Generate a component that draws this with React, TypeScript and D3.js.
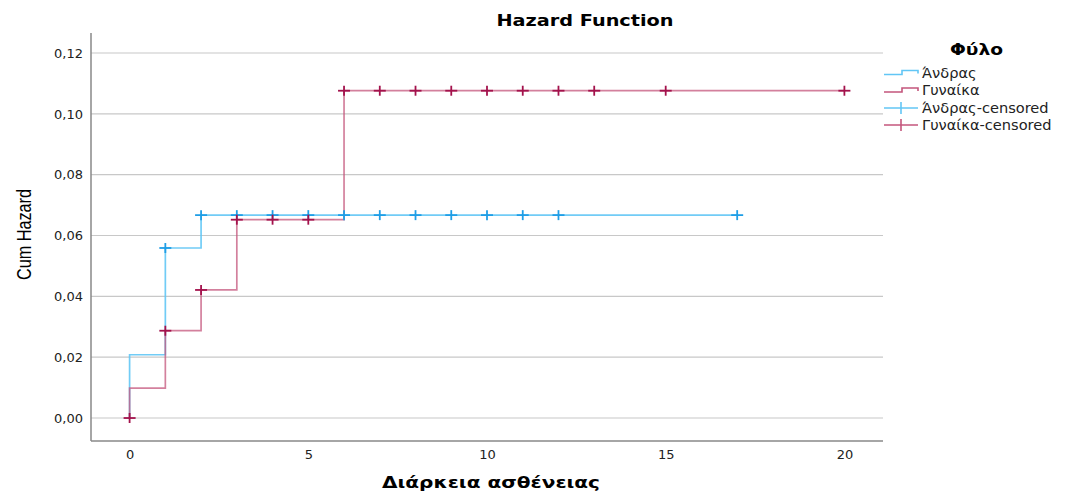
import { useEffect, useRef } from 'react';
import * as d3 from 'd3';

// step points: [time, cum hazard]
const maleSteps: [number, number][] = [
  [0, 0], [0, 0.0208], [1, 0.0559], [2, 0.0667], [17, 0.0667],
];
const femaleSteps: [number, number][] = [
  [0, 0], [0, 0.0098], [1, 0.0287], [2, 0.0421], [3, 0.0652], [6, 0.1076], [20, 0.1076],
];
const maleCensored: [number, number][] = [
  [1, 0.0559], [2, 0.0667], [3, 0.0667], [4, 0.0667], [5, 0.0667], [6, 0.0667], [7, 0.0667],
  [8, 0.0667], [9, 0.0667], [10, 0.0667], [11, 0.0667], [12, 0.0667], [17, 0.0667],
];
const femaleCensored: [number, number][] = [
  [0, 0], [1, 0.0287], [2, 0.0421], [3, 0.0652], [4, 0.0652], [5, 0.0652],
  [6, 0.1076], [7, 0.1076], [8, 0.1076], [9, 0.1076], [10, 0.1076], [11, 0.1076],
  [12, 0.1076], [13, 0.1076], [15, 0.1076], [20, 0.1076],
];
const xTicks = [0, 5, 10, 15, 20];
const yTicks = [0, 0.02, 0.04, 0.06, 0.08, 0.1, 0.12];
const legendLabels = ['Άνδρας', 'Γυναίκα', 'Άνδρας-censored', 'Γυναίκα-censored'];

const blueLine = '#62c6f5';
const blueMark = '#1f9ee6';
const redLine = '#c4567c';
const redMark = '#a3124c';

export default function App() {
  const svgRef = useRef<SVGSVGElement>(null);

  useEffect(() => {
    if (!svgRef.current) return;
    const width = 1072;
    const height = 497;
    const margin = { top: 33, right: 189, bottom: 56, left: 91 };
    const wide = '"DejaVu Sans", Verdana, sans-serif';

    d3.select(svgRef.current).selectAll('*').remove();
    const svg = d3.select(svgRef.current)
      .attr('width', width)
      .attr('height', height)
      .style('font-family', wide);

    const x = d3.scaleLinear().domain([-1.08, 21.08]).range([margin.left, width - margin.right]);
    const y = d3.scaleLinear().domain([-0.00065, 0.12]).range([420, 53]);
    const bottom = height - margin.bottom;

    // gridlines
    svg.append('g')
      .selectAll('line')
      .data(yTicks)
      .join('line')
      .attr('x1', margin.left)
      .attr('x2', width - margin.right)
      .attr('y1', d => y(d))
      .attr('y2', d => y(d))
      .attr('stroke', '#c8c8c8')
      .attr('stroke-width', 1.2);

    // axes
    const yAxis = svg.append('g')
      .attr('transform', `translate(${margin.left},0)`)
      .call(d3.axisLeft(y).tickValues(yTicks).tickSize(0).tickPadding(8)
        .tickFormat(d => d3.format('.2f')(d as number).replace('.', ',')));
    yAxis.select('.domain').remove();
    yAxis.selectAll('text').style('font-size', '13px').style('font-family', wide).style('fill', '#222');

    const xAxis = svg.append('g')
      .attr('transform', `translate(0,${bottom})`)
      .call(d3.axisBottom(x).tickValues(xTicks).tickSize(0).tickPadding(9));
    xAxis.select('.domain').remove();
    xAxis.selectAll('text').style('font-size', '13px').style('font-family', wide).style('fill', '#222');

    svg.append('line')
      .attr('x1', margin.left).attr('x2', margin.left)
      .attr('y1', margin.top).attr('y2', bottom)
      .attr('stroke', '#888').attr('stroke-width', 1.5);
    svg.append('line')
      .attr('x1', margin.left).attr('x2', width - margin.right)
      .attr('y1', bottom).attr('y2', bottom)
      .attr('stroke', '#888').attr('stroke-width', 1.5);

    const line = d3.line<[number, number]>()
      .x(d => x(d[0]))
      .y(d => y(d[1]))
      .curve(d3.curveStepAfter);

    svg.append('path')
      .datum(maleSteps)
      .attr('d', line)
      .attr('fill', 'none')
      .attr('stroke', blueLine)
      .attr('stroke-width', 1.7)
      .attr('opacity', 0.9);

    svg.append('path')
      .datum(femaleSteps)
      .attr('d', line)
      .attr('fill', 'none')
      .attr('stroke', redLine)
      .attr('stroke-width', 1.7)
      .attr('opacity', 0.75);

    const drawCross = (data: [number, number][], color: string) => {
      const g = svg.append('g');
      data.forEach(d => {
        const cx = x(d[0]);
        const cy = y(d[1]);
        g.append('line')
          .attr('x1', cx - 6).attr('x2', cx + 6)
          .attr('y1', cy).attr('y2', cy)
          .attr('stroke', color).attr('stroke-width', 1.8);
        g.append('line')
          .attr('x1', cx).attr('x2', cx)
          .attr('y1', cy - 5).attr('y2', cy + 5)
          .attr('stroke', color).attr('stroke-width', 1.8);
      });
    };
    drawCross(maleCensored, blueMark);
    drawCross(femaleCensored, redMark);

    // titles
    svg.append('text')
      .attr('x', 585).attr('y', 26)
      .attr('text-anchor', 'middle')
      .attr('textLength', 177)
      .attr('lengthAdjust', 'spacingAndGlyphs')
      .style('font-size', '16px').style('font-weight', 'bold')
      .text('Hazard Function');

    svg.append('text')
      .attr('transform', 'rotate(-90)')
      .attr('x', -234.5).attr('y', 31)
      .attr('text-anchor', 'middle')
      .attr('textLength', 91)
      .attr('lengthAdjust', 'spacingAndGlyphs')
      .style('font-family', '"Liberation Sans Narrow", "Liberation Sans", Arial, sans-serif')
      .style('font-size', '20px')
      .text('Cum Hazard');

    svg.append('text')
      .attr('x', 491).attr('y', 488)
      .attr('text-anchor', 'middle')
      .attr('textLength', 218)
      .attr('lengthAdjust', 'spacingAndGlyphs')
      .style('font-size', '16px').style('font-weight', 'bold')
      .text('Διάρκεια ασθένειας');

    // legend
    const lg = svg.append('g');
    lg.append('text')
      .attr('x', 976.5).attr('y', 55)
      .attr('text-anchor', 'middle')
      .attr('textLength', 53)
      .attr('lengthAdjust', 'spacingAndGlyphs')
      .style('font-size', '16px').style('font-weight', 'bold')
      .text('Φύλο');

    const rowY = [72.5, 90, 108, 125];
    const colors = [blueLine, redLine, blueLine, redLine];
    legendLabels.forEach((label, i) => {
      const yy = rowY[i];
      if (i < 2) {
        lg.append('path')
          .attr('d', `M884,${yy + 2}H902V${yy - 2}H918V${yy + 1}`)
          .attr('fill', 'none')
          .attr('stroke', colors[i])
          .attr('stroke-width', 1.6);
      } else {
        lg.append('line')
          .attr('x1', 884).attr('x2', 918)
          .attr('y1', yy).attr('y2', yy)
          .attr('stroke', colors[i]).attr('stroke-width', 1.6);
        lg.append('line')
          .attr('x1', 901).attr('x2', 901)
          .attr('y1', yy - 6).attr('y2', yy + 6)
          .attr('stroke', colors[i]).attr('stroke-width', 1.6);
      }
      lg.append('text')
        .attr('x', 922).attr('y', yy + 5)
        .style('font-size', '14.6px')
        .style('fill', '#222')
        .text(label);
    });
  }, []);

  return <svg ref={svgRef} style={{ position: 'absolute', left: 0, top: 0 }}></svg>;
}
